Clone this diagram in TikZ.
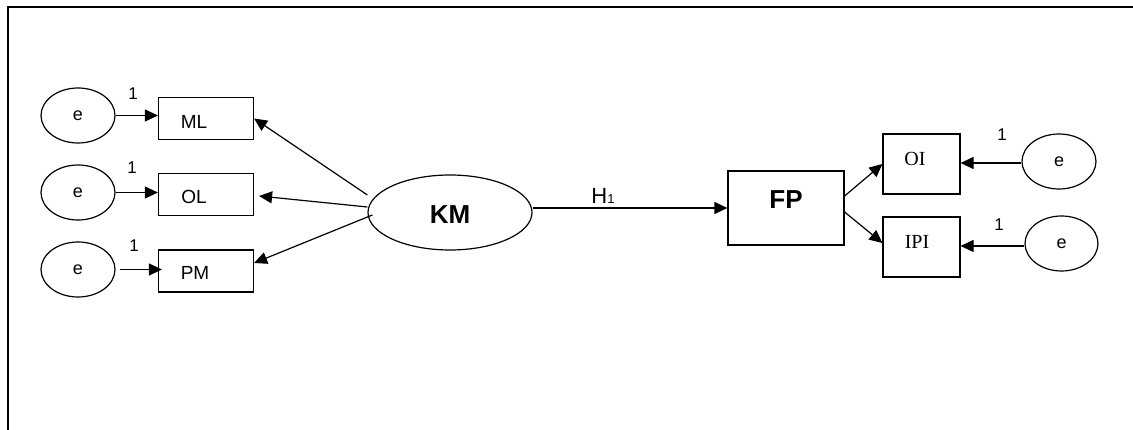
\documentclass[tikz,border=0pt]{standalone}
\usepackage{fontspec}
\setmainfont{Liberation Sans}
\newfontfamily\seriffont{Liberation Serif}
\usetikzlibrary{shapes.geometric,arrows.meta,calc}

\tikzset{
  errvar/.style={draw, ellipse, line width=1.2pt, inner sep=0pt,
    minimum width=74pt, minimum height=55pt, font=\fontsize{18}{20}\selectfont},
  latent/.style={draw, ellipse, line width=1.2pt, inner sep=0pt,
    minimum width=164pt, minimum height=75pt},
  obsbox/.style={draw, rectangle, line width=1.2pt, inner sep=0pt,
    minimum width=95pt, minimum height=42pt},
  ibox/.style={draw, rectangle, line width=1.2pt, inner sep=0pt,
    minimum width=77pt, minimum height=60pt},
  sanslbl/.style={inner sep=0pt, font=\fontsize{19}{21}\selectfont},
  seriflbl/.style={inner sep=0pt, font=\seriffont\fontsize{20}{22}\selectfont},
  boldlbl/.style={inner sep=0pt, font=\bfseries\fontsize{26}{28}\selectfont},
  onelbl/.style={inner sep=0pt, font=\fontsize{17}{19}\selectfont},
  arr/.style={line width=1.2pt, -{Triangle[length=13pt,width=12pt]}},
}

\begin{document}
\begin{tikzpicture}[x=1pt, y=-1pt]
\useasboundingbox (0,0) rectangle (1133,430);

% outer frame (top and left edges)
\coordinate (fbl) at (8,430);
\coordinate (ftl) at (8,7);
\coordinate (ftr) at (1133,7);
\draw[line width=1.5pt] (fbl) -- (ftl) -- (ftr);

% measurement model of KM
\node[errvar] (e1) at (78,115.5) {e};
\node[errvar] (e2) at (78,192.5) {e};
\node[errvar] (e3) at (78,269.5) {e};

\node[obsbox] (ml) at (206,118.5) {};
\node[obsbox] (ol) at (206,194.5) {};
\node[obsbox] (pm) at (206,271) {};
\node[sanslbl] (tml) at (194,122) {ML};
\node[sanslbl] (tol) at (194,197) {OL};
\node[sanslbl] (tpm) at (195,273) {PM};

\node[onelbl] (w1) at (133,94) {1};
\node[onelbl] (w2) at (132,168) {1};
\node[onelbl] (w3) at (134,246) {1};

\draw[arr] (e1.east) -- (e1.east -| ml.west);
\draw[arr] (e2.east) -- (e2.east -| ol.west);
\draw[arr] ([xshift=4pt]e3.east) -- ([xshift=4pt]e3.east -| pm.west);

% latent constructs
\node[latent] (km) at (450,212.5) {};
\node[boldlbl] (tkm) at (450,215) {KM};

\node[ibox, minimum width=116pt, minimum height=74pt] (fp) at (786,208) {};
\node[boldlbl] (tfp) at (786,200) {FP};

\draw[arr] ([yshift=17.5pt]km.west) -- (ml.east);
\draw[arr] ([yshift=5.5pt]km.west) -- ([xshift=5pt,yshift=-1.5pt]ol.east);
\draw[arr] ([xshift=5pt,yshift=-2.5pt]km.west) -- ([yshift=8pt]pm.east);

\draw[arr] (fp.west -| km.east) -- (fp.west);
\node[inner sep=0pt, font=\fontsize{22}{24}\selectfont] (h1) at (603,196)
  {H\fontsize{13}{15}\selectfont 1};

% measurement model of FP
\node[ibox] (oi) at (921.5,164) {};
\node[ibox] (ipi) at (921.5,247) {};
\node[seriflbl] (toi) at (915,159) {OI};
\node[seriflbl] (tipi) at (917,242) {IPI};

\draw[arr] ([yshift=12pt]fp.east) -- (oi.west);
\draw[arr] ([yshift=-4pt]fp.east) -- ([yshift=4pt]ipi.west);

\node[errvar] (e4) at (1059,161.5) {e};
\node[errvar, minimum width=73pt] (e5) at (1061.5,243.5) {e};
\node[onelbl] (w4) at (1002,135) {1};
\node[onelbl] (w5) at (999,225) {1};

\draw[arr] ([yshift=-1.5pt]e4.west) -- ([yshift=-1.5pt]e4.west -| oi.east);
\draw[arr] ([yshift=-2.5pt]e5.west) -- ([yshift=-2.5pt]e5.west -| ipi.east);
\end{tikzpicture}
\end{document}
